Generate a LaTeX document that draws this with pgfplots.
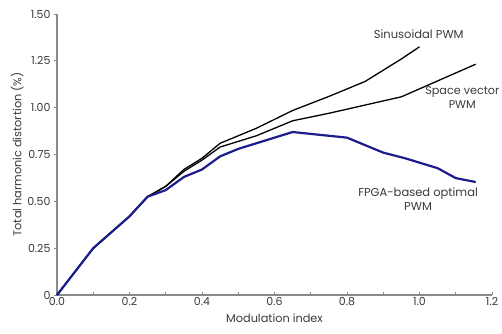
\documentclass[border=0pt]{standalone}
\usepackage{pgfplots}
\pgfplotsset{compat=1.18}
\usepackage{fontspec}
\setmainfont{Poppins}
\definecolor{axgray}{HTML}{8A8A8A}
\definecolor{txt}{HTML}{3A3A3A}
\definecolor{navy}{HTML}{1C1C8C}
\begin{document}
\begin{tikzpicture}
\begin{axis}[
  scale only axis, width=435pt, height=281pt,
  at={(0,0)}, anchor=south west,
  xmin=0, xmax=1.2, ymin=0, ymax=1.5,
  axis lines*=left,
  axis line style={axgray, line width=1.2pt, -},
  xtick={0,0.2,...,1.2},
  xticklabels={0.0,0.2,0.4,0.6,0.8,1.0,1.2},
  minor xtick={0.1,0.3,...,1.1},
  ytick={0,0.25,0.5,0.75,1,1.25,1.5},
  yticklabels={0,0.25,0.50,0.75,1.00,1.25,1.50},
  xtick align=inside, ytick align=outside,
  major tick length=3pt, minor tick length=3pt,
  tick style={axgray, line width=0.8pt},
  tick label style={font=\fontsize{11}{13}\selectfont, text=txt},
  xticklabel style={yshift=1pt},
  xlabel={Modulation index},
  ylabel={Total harmonic distortion (\%)},
  label style={font=\fontsize{11.3}{13}\selectfont, text=txt},
  xlabel style={yshift=-1pt},
  ylabel style={yshift=-3pt},
  clip=false,
]
\addplot[black, line width=1.3pt] coordinates {
(0,0) (0.1,0.25) (0.2,0.42) (0.25,0.525) (0.3,0.58) (0.35,0.67) (0.4,0.73) (0.45,0.81)
(0.55,0.89) (0.65,0.985) (0.75,1.06) (0.85,1.14) (0.95,1.26) (1.0,1.325)};
\addplot[black, line width=1.3pt] coordinates {
(0,0) (0.1,0.25) (0.2,0.42) (0.25,0.525) (0.3,0.58) (0.35,0.66) (0.4,0.72) (0.45,0.79)
(0.55,0.85) (0.65,0.93) (0.75,0.97) (0.95,1.058) (1.155,1.232)};
\addplot[navy, line width=2.2pt] coordinates {
(0,0) (0.1,0.25) (0.2,0.42) (0.25,0.525) (0.3,0.56) (0.35,0.63) (0.4,0.67) (0.45,0.74)
(0.5,0.78) (0.6,0.84) (0.65,0.87) (0.8,0.84) (0.9,0.76) (0.96,0.73) (1.05,0.677) (1.1,0.624) (1.155,0.603)};
\node[font=\fontsize{11.5}{13}\selectfont, text=txt] at (axis cs:0.998,1.39) {Sinusoidal PWM};
\node[font=\fontsize{11.2}{14}\selectfont, text=txt, align=center] at (axis cs:1.118,1.053) {Space vector\\PWM};
\node[font=\fontsize{11.5}{14}\selectfont, text=txt, align=center] at (axis cs:0.996,0.51) {FPGA-based optimal\\PWM};
\end{axis}
\pgfresetboundingbox
\path[use as bounding box] (-57pt,-38pt) rectangle (445pt,295pt);
\end{tikzpicture}
\end{document}
